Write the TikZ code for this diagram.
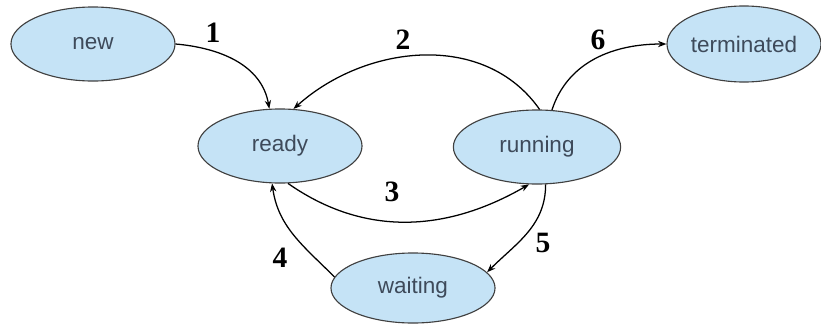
\documentclass[tikz,border=0pt]{standalone}
\usepackage{fontspec}
\setmainfont{Liberation Serif}
\newfontfamily\statefont{Liberation Sans}
\usetikzlibrary{shapes.geometric,arrows.meta}
\definecolor{statefill}{RGB}{197,227,246}
\definecolor{statetext}{RGB}{62,74,90}
\tikzset{
  state/.style={ellipse,draw=black!75,fill=statefill,line width=0.8pt,inner sep=0pt,
    minimum width=4.1cm,minimum height=1.85cm,text=statetext,font=\statefont\fontsize{16}{18}\selectfont},
  trans/.style={line width=0.9pt,-{Stealth[length=6pt,width=4.5pt]}},
  num/.style={font=\fontsize{21}{24}\selectfont\bfseries}
}
\begin{document}
\begin{tikzpicture}[x=0.025cm,y=-0.025cm]
\useasboundingbox (0,0) rectangle (821,323);
% states
\node[state] (new) at (93,44) {new};
\node[state] (ready) at (280,146) {ready};
\node[state,minimum width=4.18cm] (running) at (537,147) {running};
\node[state,minimum width=3.85cm,minimum height=1.9cm] (terminated) at (744,44) {terminated};
\node[state,minimum height=1.75cm] (waiting) at (413,288) {waiting};
% transitions
\draw[trans] (new.east) to[out=-5,in=100] (ready.106);
\draw[trans] (running.86) to[out=125,in=42] (ready.70);
\draw[trans] (ready.282) to[out=-35,in=-150] (running.258);
\draw[trans] (running.283) to[out=-90,in=45] (waiting.12);
\draw[trans] (waiting.172) to[out=135,in=-82] (ready.258);
\draw[trans] (running.68) to[out=72,in=180] (terminated.west);
% numbers
\node[num] (n1) at (213,33) {1};
\node[num] (n2) at (403,40) {2};
\node[num] (n3) at (392,192) {3};
\node[num] (n4) at (280,258) {4};
\node[num] (n5) at (543,243) {5};
\node[num] (n6) at (598,40) {6};
\end{tikzpicture}
\end{document}
